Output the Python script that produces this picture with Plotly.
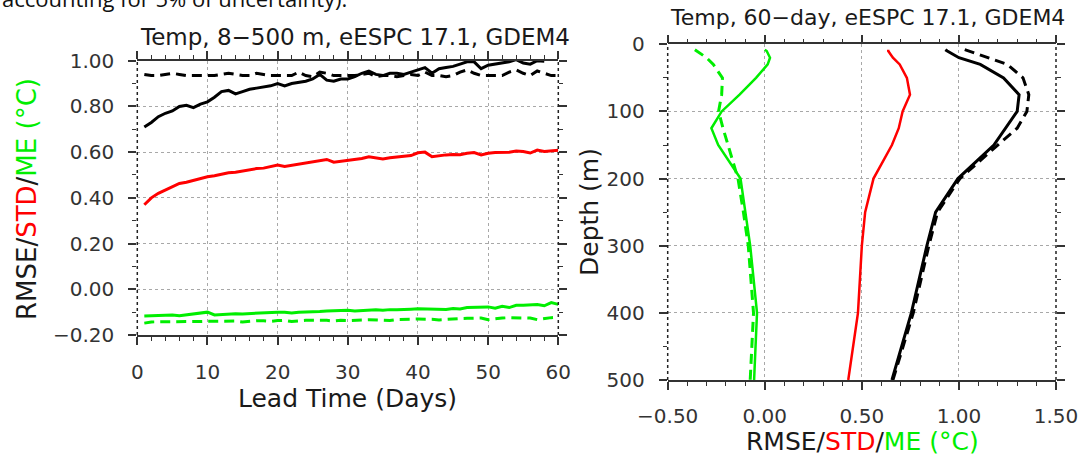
import plotly.graph_objects as go

W, H = 1081, 454

# ---------------- Left panel data: lead time series ----------------
lead_days = list(range(1, 61))
rmse_days_solid = [0.71, 0.73, 0.755, 0.77, 0.78, 0.80, 0.805, 0.795, 0.81, 0.82,
                   0.84, 0.865, 0.87, 0.855, 0.865, 0.875, 0.88, 0.885, 0.89, 0.90,
                   0.89, 0.90, 0.905, 0.91, 0.92, 0.94, 0.915, 0.91, 0.92, 0.92,
                   0.93, 0.945, 0.955, 0.94, 0.935, 0.945, 0.945, 0.94, 0.95, 0.96,
                   0.97, 0.945, 0.965, 0.97, 0.975, 0.985, 0.995, 0.995, 0.965, 0.98,
                   0.985, 0.99, 0.995, 1.005, 0.99, 0.985, 1.0, 0.998]
rmse_days_dashed = [0.94, 0.935, 0.935, 0.94, 0.945, 0.94, 0.935, 0.935, 0.935, 0.935,
                    0.935, 0.94, 0.945, 0.94, 0.935, 0.935, 0.945, 0.94, 0.935, 0.935,
                    0.935, 0.935, 0.95, 0.935, 0.93, 0.95, 0.945, 0.935, 0.935, 0.935,
                    0.935, 0.94, 0.945, 0.93, 0.935, 0.935, 0.93, 0.935, 0.94, 0.935,
                    0.95, 0.935, 0.935, 0.93, 0.935, 0.95, 0.96, 0.945, 0.935, 0.935,
                    0.935, 0.935, 0.95, 0.96, 0.945, 0.935, 0.955, 0.945, 0.935, 0.935]
std_days = [0.37, 0.40, 0.42, 0.435, 0.45, 0.463, 0.468, 0.477, 0.485, 0.492,
            0.497, 0.505, 0.51, 0.512, 0.518, 0.522, 0.528, 0.53, 0.537, 0.544,
            0.537, 0.542, 0.548, 0.553, 0.556, 0.56, 0.568, 0.556, 0.56, 0.566,
            0.57, 0.572, 0.58, 0.575, 0.57, 0.575, 0.578, 0.582, 0.585, 0.597,
            0.60, 0.58, 0.585, 0.588, 0.59, 0.589, 0.595, 0.598, 0.588, 0.595,
            0.598, 0.598, 0.60, 0.605, 0.603, 0.596, 0.609, 0.603, 0.605, 0.608]
me_days_solid = [-0.117, -0.116, -0.115, -0.114, -0.113, -0.116, -0.112, -0.108, -0.104, -0.100,
                 -0.112, -0.110, -0.110, -0.107, -0.108, -0.106, -0.104, -0.104, -0.103, -0.100,
                 -0.101, -0.104, -0.100, -0.100, -0.098, -0.097, -0.095, -0.093, -0.094, -0.092,
                 -0.095, -0.093, -0.092, -0.090, -0.092, -0.089, -0.090, -0.087, -0.087, -0.085,
                 -0.086, -0.084, -0.086, -0.088, -0.084, -0.086, -0.080, -0.079, -0.078, -0.077,
                 -0.083, -0.074, -0.080, -0.070, -0.070, -0.068, -0.067, -0.072, -0.058, -0.066]
me_days_dashed = [-0.148, -0.143, -0.142, -0.142, -0.142, -0.143, -0.144, -0.141, -0.141, -0.140,
                  -0.140, -0.141, -0.140, -0.139, -0.143, -0.139, -0.138, -0.138, -0.140, -0.137,
                  -0.136, -0.141, -0.137, -0.136, -0.136, -0.135, -0.136, -0.139, -0.136, -0.137,
                  -0.134, -0.134, -0.133, -0.135, -0.134, -0.137, -0.132, -0.133, -0.131, -0.130,
                  -0.130, -0.131, -0.134, -0.131, -0.130, -0.128, -0.127, -0.126, -0.126, -0.133,
                  -0.128, -0.126, -0.124, -0.124, -0.124, -0.126, -0.133, -0.128, -0.124, -0.122]

left_xticks = [0, 10, 20, 30, 40, 50, 60]
left_yticks = [-0.2, 0.0, 0.2, 0.4, 0.6, 0.8, 1.0]

# ---------------- Right panel data: depth profiles ----------------
depth_m = [8, 10, 20, 30, 50, 75, 100, 125, 150, 200, 250, 300, 400, 500]
rmse_prof_solid = [0.93, 0.94, 1.00, 1.11, 1.23, 1.31, 1.30, 1.24, 1.18, 0.995, 0.88, 0.835, 0.755, 0.655]
rmse_prof_dashed = [1.03, 1.05, 1.14, 1.25, 1.33, 1.36, 1.35, 1.30, 1.20, 1.005, 0.89, 0.845, 0.765, 0.66]
std_prof = [0.636, 0.636, 0.66, 0.695, 0.732, 0.748, 0.71, 0.69, 0.655, 0.56, 0.517, 0.50, 0.48, 0.43]
me_prof_solid = [0.0, 0.01, 0.027, 0.015, -0.045, -0.13, -0.222, -0.275, -0.24, -0.125, -0.10, -0.075, -0.04, -0.055]
me_prof_dashed = [-0.36, -0.35, -0.30, -0.265, -0.218, -0.222, -0.238, -0.215, -0.19, -0.138, -0.11, -0.085, -0.058, -0.075]

right_xticks = [-0.5, 0.0, 0.5, 1.0, 1.5]
right_yticks = [0, 100, 200, 300, 400, 500]

BLACK = "#000000"
RED = "#ff0000"
GREEN = "#00ee00"
FONT = "DejaVu Sans"
TXT = "#1a1a1a"


def px(x):
    return x / W


def py(y):
    return 1 - y / H


fig = go.Figure()

dash = "10px,6px"
# left panel
fig.add_trace(go.Scatter(x=lead_days[:len(rmse_days_dashed)], y=rmse_days_dashed, mode="lines",
                         line=dict(color=BLACK, width=3, dash=dash), xaxis="x", yaxis="y"))
fig.add_trace(go.Scatter(x=lead_days[:len(rmse_days_solid)], y=rmse_days_solid, mode="lines",
                         line=dict(color=BLACK, width=3), xaxis="x", yaxis="y"))
fig.add_trace(go.Scatter(x=lead_days, y=std_days, mode="lines",
                         line=dict(color=RED, width=3), xaxis="x", yaxis="y"))
fig.add_trace(go.Scatter(x=lead_days, y=me_days_dashed, mode="lines",
                         line=dict(color=GREEN, width=3, dash=dash), xaxis="x", yaxis="y"))
fig.add_trace(go.Scatter(x=lead_days, y=me_days_solid, mode="lines",
                         line=dict(color=GREEN, width=3), xaxis="x", yaxis="y"))

# right panel
fig.add_trace(go.Scatter(x=me_prof_dashed, y=depth_m, mode="lines",
                         line=dict(color=GREEN, width=3, dash=dash), xaxis="x2", yaxis="y2"))
fig.add_trace(go.Scatter(x=me_prof_solid, y=depth_m, mode="lines",
                         line=dict(color=GREEN, width=2.5), xaxis="x2", yaxis="y2"))
fig.add_trace(go.Scatter(x=std_prof, y=depth_m, mode="lines",
                         line=dict(color=RED, width=2.5), xaxis="x2", yaxis="y2"))
fig.add_trace(go.Scatter(x=rmse_prof_dashed, y=depth_m, mode="lines",
                         line=dict(color=BLACK, width=3, dash=dash), xaxis="x2", yaxis="y2"))
fig.add_trace(go.Scatter(x=rmse_prof_solid, y=depth_m, mode="lines",
                         line=dict(color=BLACK, width=3), xaxis="x2", yaxis="y2"))

tickfont = dict(family=FONT, size=20, color="#333333")
common = dict(showgrid=True, gridcolor="#a8a8a8", griddash="dot", gridwidth=1, zeroline=False,
              automargin=False, ticks="outside", ticklen=8, tickwidth=1.5, tickcolor="#333",
              mirror="ticks", tickfont=tickfont)
minor_style = dict(ticks="outside", ticklen=4, tickwidth=1, tickcolor="#333", showgrid=False)

fig.update_layout(
    template="none",
    width=W, height=H,
    margin=dict(l=0, r=0, t=0, b=0, pad=0, autoexpand=False),
    paper_bgcolor="white", plot_bgcolor="white",
    showlegend=False,
    xaxis=dict(domain=[px(137.3), px(558.3)], anchor="y", range=[0, 60],
               tickmode="array", tickvals=left_xticks, ticktext=[str(v) for v in left_xticks],
               showline=True, linecolor="#333", linewidth=1.5,
               ticklabelstandoff=10,
               minor=dict(dtick=2, **minor_style), **common),
    yaxis=dict(domain=[py(335), py(60.7)], anchor="x", range=[-0.2, 1.0],
               tickmode="array", tickvals=left_yticks,
               ticktext=[("\u2212" if v < 0 else "") + f"{abs(v):.2f}" for v in left_yticks],
               showline=False, ticklabelstandoff=10,
               minor=dict(dtick=0.1, **minor_style), **common),
    xaxis2=dict(domain=[px(667.7), px(1056)], anchor="y2", range=[-0.5, 1.5],
                tickmode="array", tickvals=right_xticks,
                ticktext=[("\u2212" if v < 0 else "") + f"{abs(v):.2f}" for v in right_xticks],
                showline=True, linecolor="#333", linewidth=1.5,
                ticklabelstandoff=9,
                minor=dict(dtick=0.1, **minor_style), **common),
    yaxis2=dict(domain=[py(380), py(44.3)], anchor="x2", range=[500, 0],
                tickmode="array", tickvals=right_yticks, ticktext=[str(v) for v in right_yticks],
                showline=False, ticklabelstandoff=10,
                minor=dict(dtick=50, **minor_style), **common),
)

# dotted side frames
for xr, yr in (("x domain", "y domain"), ("x2 domain", "y2 domain")):
    for xv in (0, 1):
        fig.add_shape(type="line", xref=xr, yref=yr, x0=xv, x1=xv, y0=0, y1=1,
                      line=dict(color="#222", width=1.5, dash="dot"), layer="above")

axis_font = dict(family=FONT, size=25, color=TXT)
ylab = ("RMSE/<span style='color:#ff0000'>STD</span>/"
        "<span style='color:#00ee00'>ME (°C)</span>")

ann = [
    dict(text="accounting for 5% of uncertainty).", x=px(0), y=py(15), xanchor="left", yanchor="bottom",
         font=dict(family="Open Sans", size=22, color="#111")),
    dict(text="Temp, 8\u2212500 m, eESPC 17.1, GDEM4", x=px(355), y=py(37), xanchor="center", yanchor="middle",
         font=dict(family=FONT, size=23, color=TXT)),
    dict(text="Temp, 60\u2212day, eESPC 17.1, GDEM4", x=px(867), y=py(18), xanchor="center", yanchor="middle",
         font=dict(family=FONT, size=22, color=TXT)),
    dict(text="Lead Time (Days)", x=px(347), y=py(398), xanchor="center", yanchor="middle", font=axis_font),
    dict(text=ylab, x=px(27), y=py(199), xanchor="center", yanchor="middle", textangle=-90,
         font=dict(family=FONT, size=26, color=TXT)),
    dict(text="Depth (m)", x=px(589), y=py(212), xanchor="center", yanchor="middle", textangle=-90, font=axis_font),
    dict(text=ylab, x=px(862), y=py(441), xanchor="center", yanchor="middle", font=axis_font),
]
for a in ann:
    fig.add_annotation(xref="paper", yref="paper", showarrow=False, **a)

fig.write_html("out.html", config={"displayModeBar": False},
               post_script="document.body.style.margin='0';document.body.style.padding='0';")
